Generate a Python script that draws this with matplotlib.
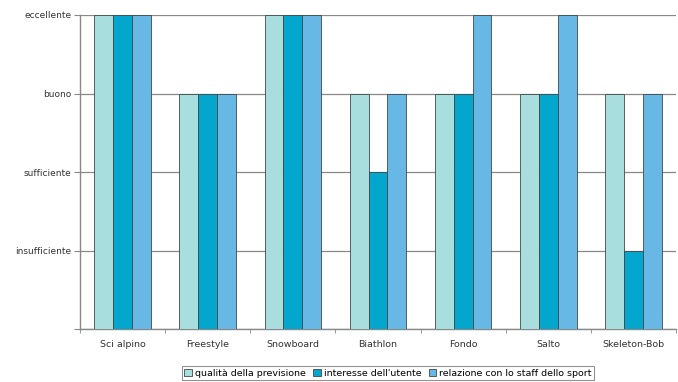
import matplotlib
matplotlib.use("Agg")
import matplotlib.pyplot as plt
import numpy as np

categories = ["Sci alpino", "Freestyle", "Snowboard", "Biathlon", "Fondo", "Salto", "Skeleton-Bob"]
series_names = ["qualità della previsione", "interesse dell'utente", "relazione con lo staff dello sport"]
qualita = [4, 3, 4, 3, 3, 3, 3]
interesse = [4, 3, 4, 2, 3, 3, 1]
relazione = [4, 3, 4, 3, 4, 4, 3]
level_labels = ["", "insufficiente", "sufficiente", "buono", "eccellente"]
colors = ["#A8DEDE", "#03A6CC", "#68B8E6"]

fig = plt.figure(figsize=(6.78, 3.82), dpi=100)
ax = fig.add_axes([80/678, 1-329/382, 596/678, 314/382])

x = np.arange(len(categories))
w = 0.222
for i, (vals, c, name) in enumerate(zip([qualita, interesse, relazione], colors, series_names)):
    ax.bar(x + (i - 1) * w, vals, width=w, color=c, edgecolor="#404848", linewidth=0.6,
           label=name, zorder=3)

ax.set_xlim(-0.5, len(categories) - 0.5)
ax.set_ylim(0, 4)
ax.set_yticks(range(5))
ax.set_yticklabels(level_labels, fontsize=6.5, color="#333333")
ax.yaxis.grid(True, color="#888888", linewidth=0.9, zorder=0)
ax.set_xticks(x)
ax.set_xticklabels(categories, fontsize=6.8, color="#333333")
ax.tick_params(axis="x", length=0, pad=8)
ax.tick_params(axis="y", length=4, color="#888888", pad=2)
ax.set_xticks(np.arange(-0.5, len(categories), 1), minor=True)
ax.tick_params(axis="x", which="minor", length=3, color="#888888", direction="out")
for s in ["top", "right"]:
    ax.spines[s].set_visible(False)
for s in ["left", "bottom"]:
    ax.spines[s].set_color("#888888")
    ax.spines[s].set_linewidth(1.0)

leg = fig.legend(loc="lower center", bbox_to_anchor=(388/678, 0.0), ncol=3, fontsize=6.8,
                 frameon=True, fancybox=False, edgecolor="#777777", handlelength=0.8,
                 handleheight=0.8, handletextpad=0.3, columnspacing=0.8, borderpad=0.25,
                 borderaxespad=0.2)
leg.get_frame().set_linewidth(0.8)

fig.savefig("out.png", dpi=100)
